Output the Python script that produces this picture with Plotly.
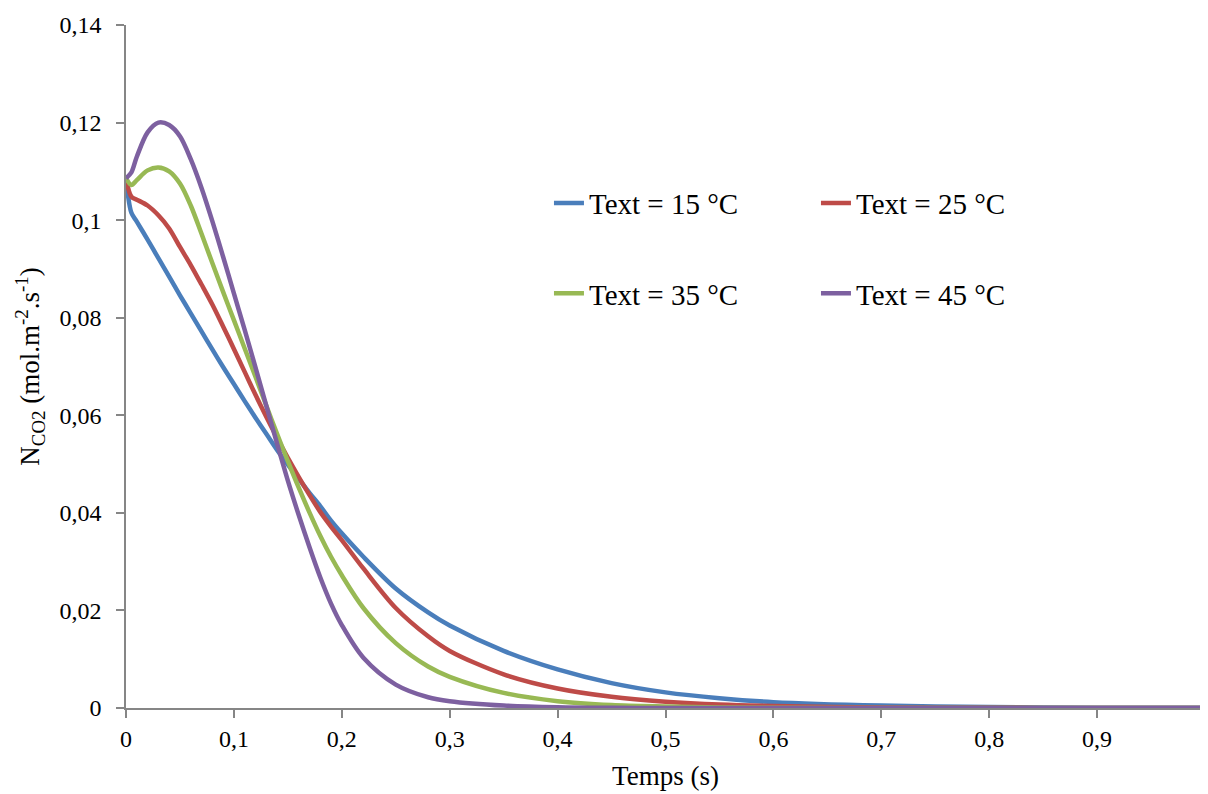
import plotly.graph_objects as go

t = [0, 0.005, 0.01, 0.02, 0.03, 0.04, 0.05, 0.06, 0.07, 0.08, 0.09, 0.10, 0.11, 0.12,
     0.13, 0.14, 0.15, 0.16, 0.17, 0.18, 0.19, 0.20, 0.22, 0.25, 0.28, 0.30, 0.35, 0.40,
     0.45, 0.50, 0.55, 0.60, 0.70, 0.80, 0.90, 1.00]

n_15 = [0.1086, 0.1015, 0.0997, 0.0960, 0.0922, 0.0884, 0.0846, 0.0809, 0.0772, 0.0735,
        0.0699, 0.0664, 0.0629, 0.0595, 0.0562, 0.0529, 0.0499, 0.0470, 0.0441, 0.0414,
        0.0384, 0.0358, 0.0310, 0.0245, 0.0196, 0.0169, 0.0117, 0.0079, 0.0051, 0.0032,
        0.0020, 0.0012, 0.0005, 0.0002, 0.00007, 0.00003]

n_25 = [0.1086, 0.1048, 0.1042, 0.1030, 0.1010, 0.0983, 0.0945, 0.0908, 0.0868, 0.0827,
        0.0782, 0.0736, 0.0689, 0.0642, 0.0597, 0.0554, 0.0513, 0.0474, 0.0437, 0.0402,
        0.0372, 0.0344, 0.0286, 0.0205, 0.0147, 0.0117, 0.0069, 0.0040, 0.0023, 0.0013,
        0.0007, 0.0004, 0.00012, 0.00004, 0.00001, 0.000003]

n_35 = [0.1086, 0.1072, 0.1082, 0.1102, 0.1108, 0.1100, 0.1075, 0.1030, 0.0972, 0.0912,
        0.0853, 0.0795, 0.0737, 0.0679, 0.0620, 0.0562, 0.0506, 0.0452, 0.0401, 0.0353,
        0.0310, 0.0272, 0.0205, 0.0133, 0.0085, 0.0064, 0.0031, 0.0014, 0.0006, 0.0003,
        0.00012, 0.00005, 0.00001, 0.000002, 0.0, 0.0]

n_45 = [0.1086, 0.1098, 0.1130, 0.1180, 0.1200, 0.1195, 0.1172, 0.1125, 0.1066, 0.0998,
        0.0925, 0.0850, 0.0775, 0.0698, 0.0620, 0.0542, 0.0466, 0.0396, 0.0330, 0.0268,
        0.0214, 0.0170, 0.0103, 0.0048, 0.0022, 0.0014, 0.0005, 0.00015, 0.00004, 0.00001,
        0.0, 0.0, 0.0, 0.0, 0.0, 0.0]

labels = ["Text = 15 °C", "Text = 25 °C", "Text = 35 °C", "Text = 45 °C"]
colors = ["#4A7EBB", "#BE4B48", "#98B954", "#7D60A0"]
series = [n_15, n_25, n_35, n_45]
legend_ids = ["legend", "legend", "legend2", "legend2"]

FONT = "Liberation Serif"

fig = go.Figure()
for lab, col, ys, lg in zip(labels, colors, series, legend_ids):
    fig.add_trace(go.Scatter(
        x=t, y=ys, mode="lines", name=lab,
        line=dict(color=col, width=4.5, shape="spline", smoothing=0.9),
        legend=lg,
    ))

legend_common = dict(
    orientation="h", xanchor="left", yanchor="middle",
    font=dict(family=FONT, size=29, color="black"),
    bgcolor="rgba(0,0,0,0)", entrywidth=222, entrywidthmode="pixels",
    itemwidth=30,
)

fig.update_layout(
    width=1200, height=786,
    margin=dict(l=118, r=3, t=17, b=86, autoexpand=False),
    paper_bgcolor="white", plot_bgcolor="white",
    separators=", ",
    font=dict(family=FONT, size=24, color="black"),
    showlegend=True,
    legend=dict(x=0.392, y=0.739, **legend_common),
    legend2=dict(x=0.392, y=0.607, **legend_common),
    xaxis=dict(
        range=[0, 1], dtick=0.1, tick0=0,
        showgrid=False, zeroline=False,
        showline=True, linecolor="#868686", linewidth=1.5,
        ticks="outside", ticklen=8, tickcolor="#868686", tickwidth=1.5,
        ticklabeloverflow="allow",
        tickfont=dict(family=FONT, size=24, color="black"),
        title=dict(text="Temps (s)", font=dict(family=FONT, size=27, color="black"), standoff=16),
        automargin=False,
    ),
    yaxis=dict(
        range=[0, 0.14], dtick=0.02, tick0=0,
        showgrid=False, zeroline=False,
        showline=True, linecolor="#868686", linewidth=1.5,
        ticks="outside", ticklen=8, tickcolor="#868686", tickwidth=1.5,
        ticklabelstandoff=10,
        tickfont=dict(family=FONT, size=24, color="black"),
        title=dict(text="N<sub>CO2</sub> (mol.m<sup>-2</sup>.s<sup>-1</sup>)",
                   font=dict(family=FONT, size=27, color="black"), standoff=12),
        automargin=False,
    ),
)

fig.write_html("out.html")
